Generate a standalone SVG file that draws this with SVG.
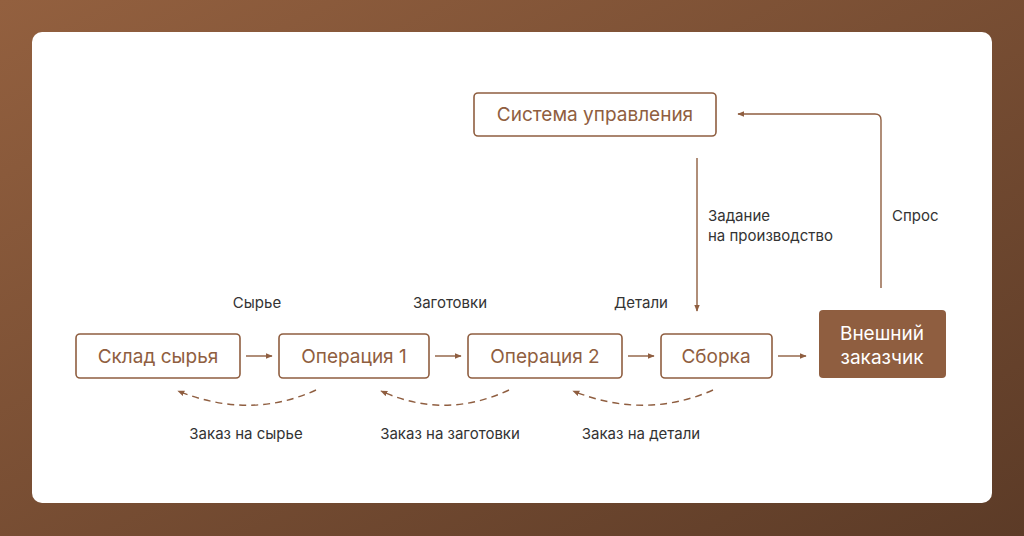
<svg xmlns="http://www.w3.org/2000/svg" width="1024" height="536" viewBox="0 0 1024 536">
<defs>
<linearGradient id="bg" x1="0" y1="0" x2="1" y2="1"><stop offset="0" stop-color="#93603f"/><stop offset="1" stop-color="#5c3b27"/></linearGradient>
<marker id="ah" viewBox="0 0 10 10" refX="9" refY="5" markerWidth="7" markerHeight="7" orient="auto-start-reverse" markerUnits="userSpaceOnUse"><path d="M0,1 L10,5 L0,9 z" fill="#8f5e40"/></marker>
<style>
.box{fill:#fff;stroke:#8f5e40;stroke-width:1.6}
.bt{font-family:Inter,"Noto Sans",sans-serif;font-size:19px;fill:#8f5e40;text-anchor:middle}
.lb{font-family:Inter,"Noto Sans",sans-serif;font-size:15px;fill:#333}
.c{text-anchor:middle}
.ln{fill:none;stroke:#8f5e40;stroke-width:1.4}
.ds{fill:none;stroke:#8f5e40;stroke-width:1.4;stroke-dasharray:7 5}
</style>
</defs>
<rect width="1024" height="536" fill="url(#bg)"/>
<rect x="32" y="32" width="960" height="471" rx="10" fill="#fff"/>
<g id="n-system"><rect class="box" x="474" y="93" width="242" height="43" rx="4"/><text class="bt" x="595" y="121">Система управления</text></g>
<g id="n-sklad"><rect class="box" x="76" y="334" width="164" height="44" rx="4"/><text class="bt" x="158" y="363">Склад сырья</text></g>
<g id="n-op1"><rect class="box" x="279" y="334" width="150" height="44" rx="4"/><text class="bt" x="354" y="363">Операция 1</text></g>
<g id="n-op2"><rect class="box" x="468" y="334" width="154" height="44" rx="4"/><text class="bt" x="545" y="363">Операция 2</text></g>
<g id="n-sborka"><rect class="box" x="661" y="334" width="111" height="44" rx="4"/><text class="bt" x="716" y="363">Сборка</text></g>
<g id="n-ext"><rect x="819" y="310" width="127" height="68" rx="4" fill="#8f5e40"/><text class="bt" x="882" y="340" style="fill:#fff">Внешний</text><text class="bt" x="882" y="364" style="fill:#fff">заказчик</text></g>
<g id="connectors">
<line class="ln" x1="246" y1="356" x2="272" y2="356" marker-end="url(#ah)"/>
<line class="ln" x1="435" y1="356" x2="461" y2="356" marker-end="url(#ah)"/>
<line class="ln" x1="628" y1="356" x2="654" y2="356" marker-end="url(#ah)"/>
<line class="ln" x1="778" y1="356" x2="806" y2="356" marker-end="url(#ah)"/>
<line class="ln" x1="697" y1="158" x2="697" y2="311" marker-end="url(#ah)"/>
<path class="ln" d="M881,288 V120 Q881,114 875,114 H738" marker-end="url(#ah)"/>
<path class="ds" d="M316,390 Q250,420 178,391" marker-end="url(#ah)"/>
<path class="ds" d="M509,390 Q445,420 381,391" marker-end="url(#ah)"/>
<path class="ds" d="M713,390 Q645,420 573,391" marker-end="url(#ah)"/>
<text class="lb c" x="257" y="308">Сырье</text>
<text class="lb c" x="450" y="308">Заготовки</text>
<text class="lb c" x="641" y="308">Детали</text>
<text class="lb" x="708" y="221">Задание</text>
<text class="lb" x="708" y="241">на производство</text>
<text class="lb" x="892" y="221">Спрос</text>
<text class="lb c" x="246" y="439">Заказ на сырье</text>
<text class="lb c" x="450" y="439">Заказ на заготовки</text>
<text class="lb c" x="641" y="439">Заказ на детали</text>
</g>
</svg>
